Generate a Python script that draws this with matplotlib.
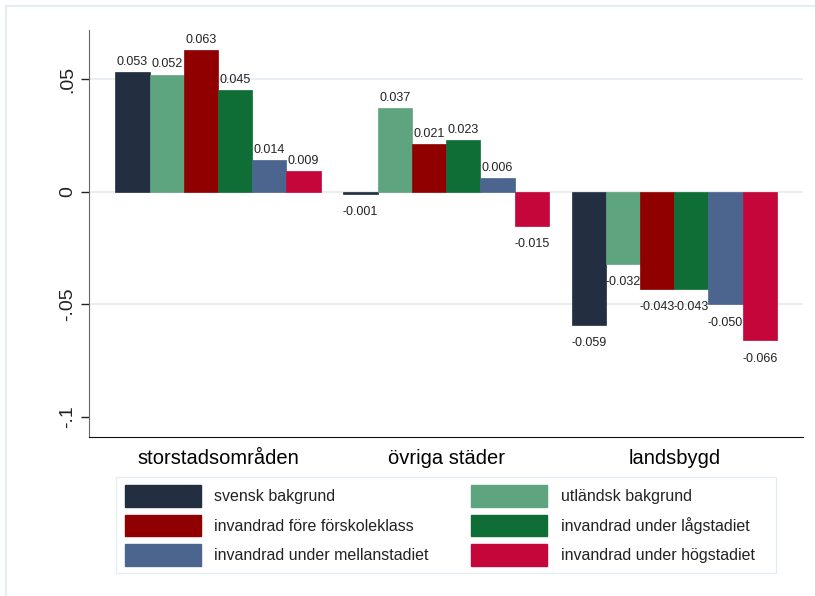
import numpy as np
import matplotlib.pyplot as plt
from matplotlib.patches import Patch, Rectangle

plt.rcParams['font.family'] = ['Liberation Sans', 'DejaVu Sans']

# data
groups = ['storstadsområden', 'övriga städer', 'landsbygd']
series = ['svensk bakgrund', 'utländsk bakgrund',
          'invandrad före förskoleklass', 'invandrad under lågstadiet',
          'invandrad under mellanstadiet', 'invandrad under högstadiet']
values = [
    [0.053, 0.052, 0.063, 0.045, 0.014, 0.009],
    [-0.001, 0.037, 0.021, 0.023, 0.006, -0.015],
    [-0.059, -0.032, -0.043, -0.043, -0.050, -0.066],
]
colors = ['#232e40', '#5ea47e', '#910000', '#0f6e35', '#4b658f', '#c4063b']
yticks = [0.05, 0, -0.05, -0.1]
ytick_labels = ['.05', '0', '-.05', '-.1']

W, H = 815, 596
fig = plt.figure(figsize=(W / 100, H / 100), dpi=100)

# outer frame
fig.patches.append(Rectangle((6 / W, -0.02), 1.05, 1 - 6 / H + 0.02,
                             transform=fig.transFigure, fill=False,
                             edgecolor='#e6edf1', lw=1.5))

ax = fig.add_axes([89 / W, 1 - 437 / H, (803 - 89) / W, (437 - 30) / H])

vals = np.array(values)
x = np.arange(len(groups))
bw = 0.15
for i, name in enumerate(series):
    xs = x + (i - 2.5) * bw
    ax.bar(xs, vals[:, i], width=bw, color=colors[i], edgecolor=colors[i],
           lw=0.5, zorder=2)
    for xi, v in zip(xs, vals[:, i]):
        if v >= 0:
            ax.annotate(f'{v:.3f}', (xi, v), xytext=(0, 3), textcoords='offset points',
                        ha='center', va='bottom', fontsize=9, color='#222222')
        else:
            ax.annotate(f'{v:.3f}', (xi, v), xytext=(0, -9), textcoords='offset points',
                        ha='center', va='top', fontsize=9, color='#222222')

# gridlines (none at the lower limit)
for t in yticks[:-1]:
    ax.axhline(t, color='#e8eef2', lw=1.5, zorder=1)

ax.set_xlim(-0.5655, 2.5647)
ax.set_ylim(-0.1089, 0.0718)
ax.set_yticks(yticks)
ax.set_yticklabels(ytick_labels, rotation=90, va='center', fontsize=14)
ax.set_xticks(x)
ax.set_xticklabels(groups, fontsize=14.5)
ax.tick_params(axis='x', length=0, pad=9)
ax.tick_params(axis='y', length=5.8, width=1, pad=3.5, colors='#222222')
ax.spines['top'].set_visible(False)
ax.spines['right'].set_visible(False)
ax.spines['left'].set_color('#666666')
ax.spines['bottom'].set_color('#111111')

# legend, filled row by row like the reference
order = [0, 2, 4, 1, 3, 5]
handles = [Patch(facecolor=colors[k], edgecolor=colors[k]) for k in order]
labels = [series[k] for k in order]
fig.patches.append(Rectangle((116 / W, 1 - 573 / H), (776 - 116) / W, (573 - 477) / H,
                             transform=fig.transFigure, fill=False,
                             edgecolor='#e6edf1', lw=1))
fig.legend(handles, labels, ncol=2, loc='upper left',
           bbox_to_anchor=(125 / W, 1 - 485 / H), frameon=False,
           borderpad=0, borderaxespad=0, fontsize=11.5,
           handlelength=4.75, handleheight=1.7, handletextpad=0.85,
           columnspacing=2.65, labelspacing=0.5, labelcolor='#222222')

fig.savefig('out.png', dpi=100)
